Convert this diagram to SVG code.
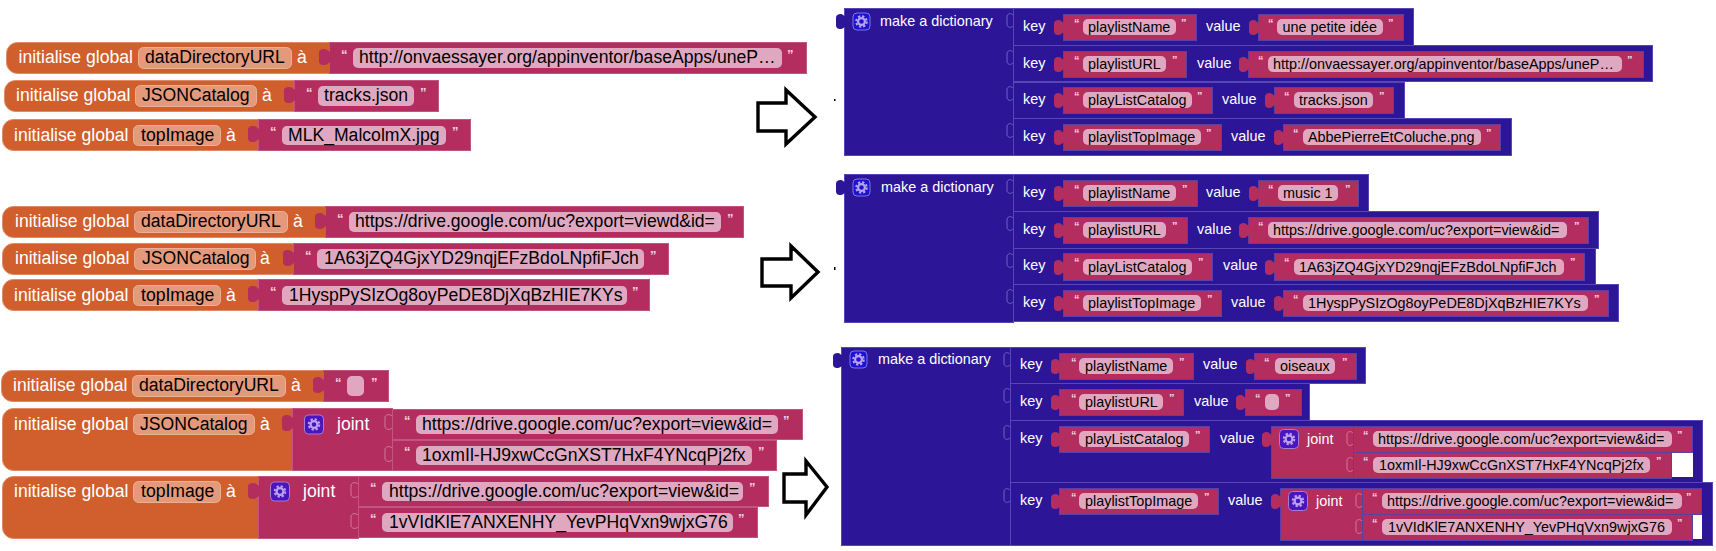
<svg xmlns="http://www.w3.org/2000/svg" width="1716" height="551" viewBox="0 0 1716 551">
<style>
text{font-family:"Liberation Sans",Arial,sans-serif;white-space:pre}
.o{fill:#D05F2D;stroke:#DE8A62;stroke-width:1}
.p{fill:#B32D5E;stroke:#C05580;stroke-width:1}
.ps{fill:#B32D5E;stroke:#5B3FA5;stroke-width:1}
.n{fill:#2C1697;stroke:#5548B4;stroke-width:1}
.of{fill:#E3997A;stroke:#EBB098;stroke-width:1}
.pf{fill:#E0A8C0}
.l{font-size:17.6px;fill:#fff}
.lk{font-size:17.6px;fill:#000}
.s{font-size:17.6px;fill:#000}
.r{font-size:14.4px;fill:#fff}
.rk{font-size:14.4px;fill:#000}
.q{font-size:13px;font-weight:bold;fill:#F3D5E0}
.qs{font-size:11px;font-weight:bold;fill:#F3D5E0}
.tp{fill:#B32D5E}
.tn{fill:#2C1697}
.sock{fill:none;stroke:#D88AA8;stroke-width:1;opacity:.8}
.sockn{fill:none;stroke:#6D60C0;stroke-width:1}
.arrow{fill:#fff;stroke:#000;stroke-width:3.4;stroke-linejoin:miter}
</style>
<defs>
<path id="tab" d="M1,10 C-1,9 -2,7 -5,7 C-8,7 -10,8 -10,11 V19 C-10,22 -8,23 -5,23 C-2,23 -1,21 1,20 Z"/>
<path id="tabs" d="M1,9 C-1,8 -2,6 -4.500,6 C-7,6 -9,7 -9,10 V17 C-9,20 -7,21 -4.500,21 C-2,21 -1,19 1,18 Z"/>
<path id="sock" d="M0,8 C-2,6 -6,6 -7,9 V19 C-6,22 -2,22 0,20"/>
<path id="socks" d="M0,7 C-2,5 -5,5 -6,8 V17 C-5,20 -2,20 0,18"/>
<g id="gearglyph"><circle r="5.300" fill="none" stroke="#B9A5EE" stroke-width="2" stroke-dasharray="2.300 1.860"/><circle r="3.400" fill="none" stroke="#B9A5EE" stroke-width="2.200"/></g>
<g id="gearb"><rect x="-8.500" y="-8.500" width="17" height="17" rx="4" fill="#1E12D2" stroke="#7A78E8"/><use href="#gearglyph"/></g>
<g id="gearj"><rect x="-9.500" y="-9.500" width="19" height="19" rx="4" fill="#4A14BE" stroke="#A47FD0"/><use href="#gearglyph"/></g>
</defs>

<g id="connectors">
<polygon class="arrow" points="758,103 786,103 786,90 815,117 786,144 786,131 758,131"/>
<polygon class="arrow" points="762,259 791,259 791,246 818,272 791,298 791,286 762,286"/>
<polygon class="arrow" points="784,474 806,474 806,461 827,487 806,515 806,502 784,502"/>
<rect x="834" y="99" width="1.500" height="2" fill="#000"/>
<rect x="834" y="267" width="1.500" height="3" fill="#000"/>
</g>

<g id="a-dataDirectoryURL">
<rect class="o" x="6.500" y="42.500" width="335" height="31" rx="11"/>
<text class="l" x="18.500" y="63">initialise global</text>
<rect class="of" x="138.500" y="47.500" width="153" height="21" rx="5"/>
<text class="lk" x="145" y="63">dataDirectoryURL</text>
<text class="l" x="297" y="63">à</text>
<rect class="p" x="329.500" y="42.500" width="477" height="31"/>
<use href="#tab" class="tp" x="329" y="42"/>
<text class="q" x="341" y="59">“</text>
<rect class="pf" x="353" y="48" width="429" height="20" rx="5"/>
<text class="s" x="359" y="63">http://onvaessayer.org/appinventor/baseApps/uneP…</text>
<text class="q" x="787" y="59">”</text>
</g>
<g id="a-JSONCatalog">
<rect class="o" x="4.500" y="80.500" width="300" height="31" rx="11"/>
<text class="l" x="16" y="101">initialise global</text>
<rect class="of" x="135.500" y="85.500" width="121" height="21" rx="5"/>
<text class="lk" x="142" y="101">JSONCatalog</text>
<text class="l" x="262" y="101">à</text>
<rect class="p" x="294.500" y="80.500" width="144" height="31"/>
<use href="#tab" class="tp" x="294" y="80"/>
<text class="q" x="306" y="97">“</text>
<rect class="pf" x="318" y="86" width="96" height="20" rx="5"/>
<text class="s" x="324" y="101">tracks.json</text>
<text class="q" x="420" y="97">”</text>
</g>
<g id="a-topImage">
<rect class="o" x="2.500" y="119.500" width="270" height="31" rx="11"/>
<text class="l" x="14" y="141">initialise global</text>
<rect class="of" x="133.500" y="125.500" width="87" height="20" rx="5"/>
<text class="lk" x="141" y="141">topImage</text>
<text class="l" x="226" y="141">à</text>
<rect class="p" x="258.500" y="119.500" width="212" height="31"/>
<use href="#tab" class="tp" x="258" y="119"/>
<text class="q" x="270" y="136">“</text>
<rect class="pf" x="282" y="126" width="164" height="19" rx="5"/>
<text class="s" x="288" y="141">MLK_MalcolmX.jpg</text>
<text class="q" x="452" y="136">”</text>
</g>

<g id="b-dataDirectoryURL">
<rect class="o" x="2.500" y="206.500" width="335" height="31" rx="11"/>
<text class="l" x="15" y="227">initialise global</text>
<rect class="of" x="134.500" y="211.500" width="153" height="21" rx="5"/>
<text class="lk" x="141" y="227">dataDirectoryURL</text>
<text class="l" x="293" y="227">à</text>
<rect class="p" x="325.500" y="206.500" width="418" height="31"/>
<use href="#tab" class="tp" x="325" y="206"/>
<text class="q" x="337" y="223">“</text>
<rect class="pf" x="349" y="212" width="372" height="20" rx="5"/>
<text class="s" x="355" y="227">https://drive.google.com/uc?export=viewd&amp;id=</text>
<text class="q" x="727" y="223">”</text>
</g>
<g id="b-JSONCatalog">
<rect class="o" x="2.500" y="243.500" width="300" height="31" rx="11"/>
<text class="l" x="15" y="264">initialise global</text>
<rect class="of" x="134.500" y="248.500" width="121" height="21" rx="5"/>
<text class="lk" x="142" y="264">JSONCatalog</text>
<text class="l" x="260" y="264">à</text>
<rect class="p" x="293.500" y="243.500" width="375" height="31"/>
<use href="#tab" class="tp" x="293" y="243"/>
<text class="q" x="305" y="260">“</text>
<rect class="pf" x="317" y="249" width="327" height="20" rx="5"/>
<text class="s" x="324" y="264">1A63jZQ4GjxYD29nqjEFzBdoLNpfiFJch</text>
<text class="q" x="650" y="260">”</text>
</g>
<g id="b-topImage">
<rect class="o" x="2.500" y="279.500" width="270" height="31" rx="11"/>
<text class="l" x="14" y="301">initialise global</text>
<rect class="of" x="133.500" y="285.500" width="87" height="20" rx="5"/>
<text class="lk" x="141" y="301">topImage</text>
<text class="l" x="226" y="301">à</text>
<rect class="p" x="258.500" y="279.500" width="391" height="31"/>
<use href="#tab" class="tp" x="258" y="279"/>
<text class="q" x="270" y="296">“</text>
<rect class="pf" x="282" y="286" width="345" height="19" rx="5"/>
<text class="s" x="289" y="301">1HyspPySIzOg8oyPeDE8DjXqBzHIE7KYs</text>
<text class="q" x="632" y="296">”</text>
</g>

<g id="c-dataDirectoryURL">
<rect class="o" x="1.500" y="370.500" width="335" height="31" rx="11"/>
<text class="l" x="13" y="391">initialise global</text>
<rect class="of" x="132.500" y="375.500" width="153" height="21" rx="5"/>
<text class="lk" x="139" y="391">dataDirectoryURL</text>
<text class="l" x="291" y="391">à</text>
<rect class="p" x="323.500" y="370.500" width="65" height="31"/>
<use href="#tab" class="tp" x="323" y="370"/>
<text class="q" x="335" y="387">“</text>
<rect class="pf" x="347" y="376" width="17" height="20" rx="5"/>
<text class="q" x="371" y="387">”</text>
</g>
<g id="c-JSONCatalog">
<rect class="o" x="2.500" y="408.500" width="300" height="62" rx="11"/>
<text class="l" x="14" y="430">initialise global</text>
<rect class="of" x="133.500" y="414.500" width="121" height="20" rx="5"/>
<text class="lk" x="140" y="430">JSONCatalog</text>
<text class="l" x="260" y="430">à</text>
<rect class="p" x="292.500" y="408.500" width="100" height="62"/>
<use href="#tab" class="tp" x="292" y="408"/>
<use href="#gearj" x="314" y="424.500"/>
<text class="l" x="337" y="430">joint</text>
<rect class="p" x="392.500" y="409.500" width="410" height="30"/>
<use href="#sock" class="sock" x="392" y="408"/>
<text class="q" x="404" y="425">“</text>
<rect class="pf" x="416" y="415" width="362" height="19" rx="5"/>
<text class="s" x="422" y="430">https://drive.google.com/uc?export=view&amp;id=</text>
<text class="q" x="783" y="425">”</text>
<rect class="p" x="392.500" y="440.500" width="384" height="30"/>
<use href="#sock" class="sock" x="392" y="440"/>
<text class="q" x="404" y="456">“</text>
<rect class="pf" x="416" y="446" width="336" height="19" rx="5"/>
<text class="s" x="422" y="461">1oxmIl-HJ9xwCcGnXST7HxF4YNcqPj2fx</text>
<text class="q" x="758" y="456">”</text>
</g>
<g id="c-topImage">
<rect class="o" x="2.500" y="476.500" width="270" height="62" rx="11"/>
<text class="l" x="14" y="497">initialise global</text>
<rect class="of" x="133.500" y="481.500" width="87" height="21" rx="5"/>
<text class="lk" x="141" y="497">topImage</text>
<text class="l" x="226" y="497">à</text>
<rect class="p" x="258.500" y="476.500" width="100" height="62"/>
<use href="#tab" class="tp" x="258" y="476"/>
<use href="#gearj" x="280" y="491.500"/>
<text class="l" x="303" y="497">joint</text>
<rect class="p" x="358.500" y="476.500" width="410" height="30"/>
<use href="#sock" class="sock" x="358" y="476"/>
<text class="q" x="370" y="492">“</text>
<rect class="pf" x="382" y="482" width="361" height="19" rx="5"/>
<text class="s" x="389" y="497">https://drive.google.com/uc?export=view&amp;id=</text>
<text class="q" x="749" y="492">”</text>
<rect class="p" x="358.500" y="507.500" width="399" height="30"/>
<use href="#sock" class="sock" x="358" y="507"/>
<text class="q" x="370" y="523">“</text>
<rect class="pf" x="382" y="513" width="351" height="19" rx="5"/>
<text class="s" x="389" y="528">1vVIdKlE7ANXENHY_YevPHqVxn9wjxG76</text>
<text class="q" x="738" y="523">”</text>
</g>

<g id="dict-a">
<rect class="n" x="844.500" y="8.500" width="169" height="147"/>
<use href="#tabs" class="tn" x="845" y="8"/>
<use href="#gearb" x="861.500" y="21.500"/>
<text class="r" x="880" y="26">make a dictionary</text>
<g id="dict-a-name">
<rect class="n" x="1013.500" y="8.500" width="400" height="37"/>
<use href="#socks" class="sockn" x="1013" y="8"/>
<text class="r" x="1023" y="31">key</text>
<rect class="ps" x="1063.500" y="14.500" width="133" height="26"/><use href="#tabs" class="tp" x="1063" y="14"/>
<text class="qs" x="1074" y="27">“</text><rect class="pf" x="1083" y="19" width="93" height="16" rx="5"/>
<text class="rk" x="1088" y="32">playlistName</text><text class="qs" x="1181" y="27">”</text>
<text class="r" x="1206" y="31">value</text>
<rect class="ps" x="1258.500" y="14.500" width="145" height="26"/><use href="#tabs" class="tp" x="1258" y="14"/>
<text class="qs" x="1268" y="27">“</text><rect class="pf" x="1277" y="19" width="106" height="16" rx="5"/>
<text class="rk" x="1282.500" y="32">une petite idée</text><text class="qs" x="1388" y="27">”</text>
</g>
<g id="dict-a-url">
<rect class="n" x="1013.500" y="45.500" width="639" height="36"/>
<use href="#socks" class="sockn" x="1013" y="45"/>
<text class="r" x="1023" y="68">key</text>
<rect class="ps" x="1063.500" y="51.500" width="123" height="26"/><use href="#tabs" class="tp" x="1063" y="51"/>
<text class="qs" x="1074" y="64">“</text><rect class="pf" x="1083" y="56" width="83" height="16" rx="5"/>
<text class="rk" x="1088" y="69">playlistURL</text><text class="qs" x="1172" y="64">”</text>
<text class="r" x="1197" y="68">value</text>
<rect class="ps" x="1248.500" y="51.500" width="395" height="26"/><use href="#tabs" class="tp" x="1248" y="51"/>
<text class="qs" x="1258" y="64">“</text><rect class="pf" x="1268" y="56" width="354" height="16" rx="5"/>
<text class="rk" x="1273" y="69">http://onvaessayer.org/appinventor/baseApps/uneP…</text><text class="qs" x="1627" y="64">”</text>
</g>
<g id="dict-a-catalog">
<rect class="n" x="1013.500" y="82.500" width="391" height="36"/>
<use href="#socks" class="sockn" x="1013" y="81"/>
<text class="r" x="1023" y="104">key</text>
<rect class="ps" x="1063.500" y="87.500" width="149" height="26"/><use href="#tabs" class="tp" x="1063" y="87"/>
<text class="qs" x="1074" y="100">“</text><rect class="pf" x="1083" y="92" width="109" height="16" rx="5"/>
<text class="rk" x="1088" y="105">playListCatalog</text><text class="qs" x="1197" y="100">”</text>
<text class="r" x="1222" y="104">value</text>
<rect class="ps" x="1274.500" y="87.500" width="119" height="26"/><use href="#tabs" class="tp" x="1274" y="87"/>
<text class="qs" x="1284" y="100">“</text><rect class="pf" x="1294" y="92" width="79" height="16" rx="5"/>
<text class="rk" x="1299" y="105">tracks.json</text><text class="qs" x="1379" y="100">”</text>
</g>
<g id="dict-a-top">
<rect class="n" x="1013.500" y="118.500" width="498" height="37"/>
<use href="#socks" class="sockn" x="1013" y="118"/>
<text class="r" x="1023" y="141">key</text>
<rect class="ps" x="1063.500" y="124.500" width="158" height="26"/><use href="#tabs" class="tp" x="1063" y="124"/>
<text class="qs" x="1074" y="137">“</text><rect class="pf" x="1083" y="129" width="118" height="16" rx="5"/>
<text class="rk" x="1088" y="142">playlistTopImage</text><text class="qs" x="1206" y="137">”</text>
<text class="r" x="1231" y="141">value</text>
<rect class="ps" x="1283.500" y="124.500" width="217" height="26"/><use href="#tabs" class="tp" x="1283" y="124"/>
<text class="qs" x="1293" y="137">“</text><rect class="pf" x="1303" y="129" width="178" height="16" rx="5"/>
<text class="rk" x="1308" y="142">AbbePierreEtColuche.png</text><text class="qs" x="1486" y="137">”</text>
</g>
</g>

<g id="dict-b">
<rect class="n" x="844.500" y="174.500" width="169" height="148"/>
<use href="#tabs" class="tn" x="845" y="174"/>
<use href="#gearb" x="861.500" y="187.500"/>
<text class="r" x="881" y="192">make a dictionary</text>
<g id="dict-b-name">
<rect class="n" x="1013.500" y="174.500" width="355" height="37"/>
<use href="#socks" class="sockn" x="1013" y="174"/>
<text class="r" x="1023" y="197">key</text>
<rect class="ps" x="1063.500" y="180.500" width="134" height="26"/><use href="#tabs" class="tp" x="1063" y="180"/>
<text class="qs" x="1074" y="193">“</text><rect class="pf" x="1083" y="185" width="93" height="16" rx="5"/>
<text class="rk" x="1088" y="198">playlistName</text><text class="qs" x="1182" y="193">”</text>
<text class="r" x="1206" y="197">value</text>
<rect class="ps" x="1258.500" y="180.500" width="100" height="26"/><use href="#tabs" class="tp" x="1258" y="180"/>
<text class="qs" x="1268" y="193">“</text><rect class="pf" x="1278" y="185" width="60" height="16" rx="5"/>
<text class="rk" x="1283" y="198">music 1</text><text class="qs" x="1345" y="193">”</text>
</g>
<g id="dict-b-url">
<rect class="n" x="1013.500" y="211.500" width="585" height="37"/>
<use href="#socks" class="sockn" x="1013" y="211"/>
<text class="r" x="1023" y="234">key</text>
<rect class="ps" x="1063.500" y="217.500" width="124" height="26"/><use href="#tabs" class="tp" x="1063" y="217"/>
<text class="qs" x="1074" y="230">“</text><rect class="pf" x="1083" y="222" width="83" height="16" rx="5"/>
<text class="rk" x="1088" y="235">playlistURL</text><text class="qs" x="1172" y="230">”</text>
<text class="r" x="1197" y="234">value</text>
<rect class="ps" x="1248.500" y="217.500" width="340" height="26"/><use href="#tabs" class="tp" x="1248" y="217"/>
<text class="qs" x="1258" y="230">“</text><rect class="pf" x="1268" y="222" width="299" height="16" rx="5"/>
<text class="rk" x="1273" y="235">https://drive.google.com/uc?export=view&amp;id=</text><text class="qs" x="1574" y="230">”</text>
</g>
<g id="dict-b-catalog">
<rect class="n" x="1013.500" y="248.500" width="582" height="36"/>
<use href="#socks" class="sockn" x="1013" y="248"/>
<text class="r" x="1023" y="270">key</text>
<rect class="ps" x="1063.500" y="253.500" width="149" height="27"/><use href="#tabs" class="tp" x="1063" y="254"/>
<text class="qs" x="1074" y="266">“</text><rect class="pf" x="1083" y="259" width="109" height="16" rx="5"/>
<text class="rk" x="1088" y="272">playListCatalog</text><text class="qs" x="1198" y="266">”</text>
<text class="r" x="1223" y="270">value</text>
<rect class="ps" x="1274.500" y="253.500" width="310" height="27"/><use href="#tabs" class="tp" x="1274" y="254"/>
<text class="qs" x="1284" y="266">“</text><rect class="pf" x="1294" y="259" width="270" height="16" rx="5"/>
<text class="rk" x="1299" y="272">1A63jZQ4GjxYD29nqjEFzBdoLNpfiFJch</text><text class="qs" x="1570" y="266">”</text>
</g>
<g id="dict-b-top">
<rect class="n" x="1013.500" y="284.500" width="605" height="37"/>
<use href="#socks" class="sockn" x="1013" y="284"/>
<text class="r" x="1023" y="307">key</text>
<rect class="ps" x="1063.500" y="290.500" width="158" height="26"/><use href="#tabs" class="tp" x="1063" y="290"/>
<text class="qs" x="1074" y="303">“</text><rect class="pf" x="1083" y="295" width="118" height="16" rx="5"/>
<text class="rk" x="1088" y="308">playlistTopImage</text><text class="qs" x="1207" y="303">”</text>
<text class="r" x="1231" y="307">value</text>
<rect class="ps" x="1283.500" y="290.500" width="325" height="26"/><use href="#tabs" class="tp" x="1283" y="290"/>
<text class="qs" x="1293" y="303">“</text><rect class="pf" x="1303" y="295" width="285" height="16" rx="5"/>
<text class="rk" x="1308" y="308">1HyspPySIzOg8oyPeDE8DjXqBzHIE7KYs</text><text class="qs" x="1594" y="303">”</text>
</g>
</g>

<g id="dict-c">
<rect class="n" x="841.500" y="347.500" width="169" height="198"/>
<use href="#tabs" class="tn" x="842" y="347"/>
<use href="#gearb" x="858.500" y="359.500"/>
<text class="r" x="878" y="364">make a dictionary</text>
<g id="dict-c-name">
<rect class="n" x="1010.500" y="347.500" width="355" height="36"/>
<use href="#socks" class="sockn" x="1010" y="347"/>
<text class="r" x="1020" y="369">key</text>
<rect class="ps" x="1059.500" y="353.500" width="134" height="26"/><use href="#tabs" class="tp" x="1060" y="353"/>
<text class="qs" x="1071" y="366">“</text><rect class="pf" x="1079" y="358" width="94" height="16" rx="5"/>
<text class="rk" x="1085" y="371">playlistName</text><text class="qs" x="1179" y="366">”</text>
<text class="r" x="1203" y="369">value</text>
<rect class="ps" x="1254.500" y="353.500" width="102" height="26"/><use href="#tabs" class="tp" x="1255" y="353"/>
<text class="qs" x="1264" y="366">“</text><rect class="pf" x="1275" y="358" width="60" height="16" rx="5"/>
<text class="rk" x="1280" y="371">oiseaux</text><text class="qs" x="1342" y="366">”</text>
</g>
<g id="dict-c-url">
<rect class="n" x="1010.500" y="383.500" width="299" height="37"/>
<use href="#socks" class="sockn" x="1010" y="383"/>
<text class="r" x="1020" y="406">key</text>
<rect class="ps" x="1059.500" y="389.500" width="124" height="26"/><use href="#tabs" class="tp" x="1060" y="389"/>
<text class="qs" x="1071" y="402">“</text><rect class="pf" x="1079" y="394" width="84" height="16" rx="5"/>
<text class="rk" x="1085" y="407">playlistURL</text><text class="qs" x="1169" y="402">”</text>
<text class="r" x="1194" y="406">value</text>
<rect class="ps" x="1245.500" y="389.500" width="56" height="26"/><use href="#tabs" class="tp" x="1245" y="389"/>
<text class="qs" x="1255" y="402">“</text><rect class="pf" x="1265" y="394" width="14" height="16" rx="5"/>
<text class="qs" x="1285" y="402">”</text>
</g>
<g id="dict-c-catalog">
<rect class="n" x="1010.500" y="420.500" width="692" height="62"/>
<use href="#socks" class="sockn" x="1010" y="420"/>
<text class="r" x="1020" y="443">key</text>
<rect class="ps" x="1059.500" y="426.500" width="150" height="26"/><use href="#tabs" class="tp" x="1060" y="426"/>
<text class="qs" x="1071" y="439">“</text><rect class="pf" x="1079" y="431" width="110" height="16" rx="5"/>
<text class="rk" x="1085" y="444">playListCatalog</text><text class="qs" x="1195" y="439">”</text>
<text class="r" x="1220" y="443">value</text>
<rect class="ps" x="1271.500" y="426.500" width="82" height="52"/><use href="#tabs" class="tp" x="1271" y="426"/>
<use href="#gearj" x="1289" y="439"/>
<text class="r" x="1307" y="444">joint</text>
<rect x="1672" y="452" width="21" height="25" fill="#fff"/>
<rect class="ps" x="1353.500" y="426.500" width="339" height="26"/>
<use href="#socks" class="sock" x="1353" y="426"/>
<text class="qs" x="1363" y="439">“</text><rect class="pf" x="1373" y="431" width="299" height="16" rx="5"/>
<text class="rk" x="1378" y="444">https://drive.google.com/uc?export=view&amp;id=</text><text class="qs" x="1677" y="439">”</text>
<rect class="ps" x="1353.500" y="452.500" width="318" height="26"/>
<use href="#socks" class="sock" x="1353" y="452"/>
<text class="qs" x="1363" y="465">“</text><rect class="pf" x="1373" y="457" width="277" height="16" rx="5"/>
<text class="rk" x="1379" y="470">1oxmIl-HJ9xwCcGnXST7HxF4YNcqPj2fx</text><text class="qs" x="1656" y="465">”</text>
</g>
<g id="dict-c-top">
<rect class="n" x="1010.500" y="482.500" width="702" height="63"/>
<use href="#socks" class="sockn" x="1010" y="483"/>
<text class="r" x="1020" y="505">key</text>
<rect class="ps" x="1059.500" y="488.500" width="159" height="26"/><use href="#tabs" class="tp" x="1060" y="488"/>
<text class="qs" x="1071" y="501">“</text><rect class="pf" x="1079" y="493" width="119" height="16" rx="5"/>
<text class="rk" x="1085" y="506">playlistTopImage</text><text class="qs" x="1204" y="501">”</text>
<text class="r" x="1228" y="505">value</text>
<rect class="ps" x="1280.500" y="488.500" width="82" height="52"/><use href="#tabs" class="tp" x="1280" y="488"/>
<use href="#gearj" x="1298" y="501"/>
<text class="r" x="1316" y="506">joint</text>
<rect x="1693" y="515" width="9" height="24" fill="#fff"/>
<rect class="ps" x="1362.500" y="488.500" width="339" height="26"/>
<use href="#socks" class="sock" x="1362" y="488"/>
<text class="qs" x="1372" y="501">“</text><rect class="pf" x="1382" y="493" width="300" height="16" rx="5"/>
<text class="rk" x="1387" y="506">https://drive.google.com/uc?export=view&amp;id=</text><text class="qs" x="1686" y="501">”</text>
<rect class="ps" x="1362.500" y="514.500" width="330" height="26"/>
<use href="#socks" class="sock" x="1362" y="514"/>
<text class="qs" x="1372" y="527">“</text><rect class="pf" x="1382" y="519" width="290" height="16" rx="5"/>
<text class="rk" x="1388" y="532">1vVIdKlE7ANXENHY_YevPHqVxn9wjxG76</text><text class="qs" x="1677" y="527">”</text>
</g>
</g>
</svg>
